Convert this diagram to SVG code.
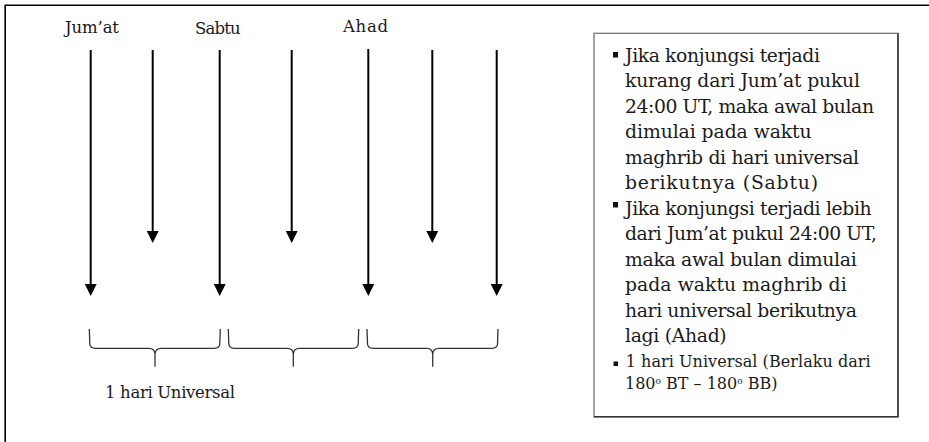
<svg xmlns="http://www.w3.org/2000/svg" width="929" height="442" viewBox="0 0 929 442">
  <style>
    .lbl { font-family: "DejaVu Serif", "Liberation Serif", serif; font-size: 16.5px; fill: #1a1a1a; }
    .note { font-family: "DejaVu Serif", "Liberation Serif", serif; font-size: 18.8px; fill: #1a1a1a; }
    .small { font-family: "DejaVu Serif", "Liberation Serif", serif; font-size: 16px; fill: #1a1a1a; }
    .arrow { stroke: #000; stroke-width: 2; fill: none; marker-end: url(#head); }
    .brace { stroke: #333; stroke-width: 1.3; fill: none; }
    .bullet { fill: #111; }
  </style>
  <defs>
    <marker id="head" markerUnits="userSpaceOnUse" markerWidth="12" markerHeight="12" viewBox="0 0 12 12" refX="0" refY="6" orient="auto">
      <path d="M0,0 L12,6 L0,12 z" fill="#000"/>
    </marker>
  </defs>

  <rect width="929" height="442" fill="#fff"/>

  <!-- outer frame: only top and left edges fall inside the canvas -->
  <path d="M5.2,442 L5.2,5.2 L929,5.2" fill="none" stroke="#000" stroke-width="1.6"/>

  <!-- day labels -->
  <g id="label-jumat"><text class="lbl" x="65" y="33" textLength="54">Jum’at</text></g>
  <g id="label-sabtu"><text class="lbl" x="195" y="34" textLength="45.7">Sabtu</text></g>
  <g id="label-ahad"><text class="lbl" x="343" y="31.5" textLength="45">Ahad</text></g>

  <!-- time arrows -->
  <g id="connectors">
    <line class="arrow" x1="90.7" y1="50" x2="90.7" y2="284"/>
    <line class="arrow" x1="152.7" y1="50" x2="152.7" y2="231"/>
    <line class="arrow" x1="219.7" y1="50" x2="219.7" y2="284"/>
    <line class="arrow" x1="291.7" y1="50" x2="291.7" y2="231"/>
    <line class="arrow" x1="368.3" y1="49" x2="368.3" y2="284"/>
    <line class="arrow" x1="432.3" y1="50" x2="432.3" y2="231"/>
    <line class="arrow" x1="496.7" y1="50" x2="496.7" y2="284"/>
  </g>

  <!-- braces marking one universal day each -->
  <g id="braces">
    <path class="brace" d="M89.3,329 L89.8,344 Q90.3,348.3 95.3,348.3 L149,348.3 Q154.5,348.3 155,354 L155,366.7 M155,354 Q155.5,348.3 161,348.3 L214.3,348.3 Q219.3,348.3 219.8,344 L220.3,329"/>
    <path class="brace" d="M228.3,329 L228.8,344 Q229.3,348.3 234.3,348.3 L287.3,348.3 Q292.8,348.3 293.3,354 L293.3,366.7 M293.3,354 Q293.8,348.3 299.3,348.3 L352.7,348.3 Q357.7,348.3 358.2,344 L358.7,329"/>
    <path class="brace" d="M367,329 L367.5,344 Q368,348.3 373,348.3 L426.7,348.3 Q432.2,348.3 432.7,354 L432.7,366.7 M432.7,354 Q433.2,348.3 438.7,348.3 L492,348.3 Q497,348.3 497.5,344 L498,329"/>
  </g>

  <g id="label-universal"><text class="lbl" x="105" y="398" textLength="130">1 hari Universal</text></g>

  <!-- explanation box -->
  <g id="notes">
    <rect x="594" y="33.3" width="304" height="383.4" fill="#fff" stroke="#777" stroke-width="1.3"/>
    <path d="M898,33.3 L898,416.7 L594,416.7" fill="none" stroke="#333" stroke-width="1.5"/>

    <rect class="bullet" x="613" y="52" width="5" height="5.5"/>
    <text class="note" x="625" y="61.7" textLength="195">Jika konjungsi terjadi</text>
    <text class="note" x="625" y="87.2" textLength="235">kurang dari Jum’at pukul</text>
    <text class="note" x="625" y="112.7" textLength="249">24:00 UT, maka awal bulan</text>
    <text class="note" x="625" y="138.2" textLength="186.7">dimulai pada waktu</text>
    <text class="note" x="625" y="163.7" textLength="234">maghrib di hari universal</text>
    <text class="note" x="625" y="189.2" textLength="193">berikutnya (Sabtu)</text>

    <rect class="bullet" x="613" y="202" width="5" height="5.5"/>
    <text class="note" x="625" y="214.7" textLength="246.7">Jika konjungsi terjadi lebih</text>
    <text class="note" x="625" y="240.2" textLength="252">dari Jum’at pukul 24:00 UT,</text>
    <text class="note" x="625" y="265.7" textLength="231.7">maka awal bulan dimulai</text>
    <text class="note" x="625" y="291.2" textLength="221.7">pada waktu maghrib di</text>
    <text class="note" x="625" y="316.7" textLength="232">hari universal berikutnya</text>
    <text class="note" x="625" y="342.2" textLength="101.7">lagi (Ahad)</text>

    <rect class="bullet" x="613.5" y="361.5" width="4.5" height="4.5"/>
    <text class="small" x="625.7" y="367.3" textLength="245">1 hari Universal (Berlaku dari</text>
    <text class="small" x="625" y="388.5">180<tspan font-size="9" dy="-5">o</tspan><tspan dy="5"> BT – 180</tspan><tspan font-size="9" dy="-5">o</tspan><tspan dy="5"> BB)</tspan></text>
  </g>
</svg>
